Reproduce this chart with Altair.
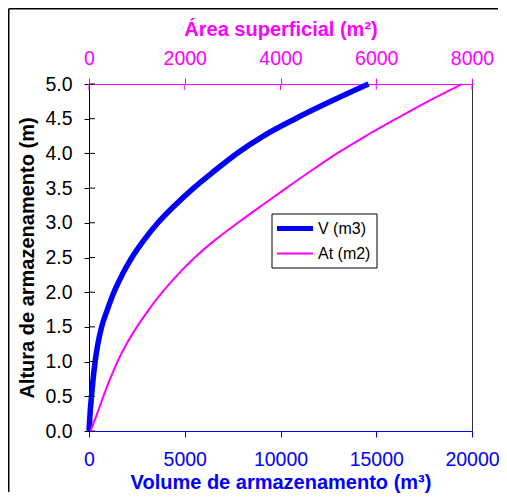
import altair as alt
import pandas as pd

# --- data ---
heights = [0.0, 0.25, 0.5, 0.75, 1.0, 1.25, 1.5, 1.75, 2.0, 2.25, 2.5,
           2.75, 3.0, 3.25, 3.5, 3.75, 4.0, 4.25, 4.5, 4.75, 5.0]
volume = [0, 55, 130, 215, 320, 460, 660, 960, 1300, 1730, 2240,
          2870, 3600, 4480, 5460, 6560, 7720, 9100, 10780, 12630, 14600]
area = [30, 170, 300, 440, 595, 780, 1000, 1250, 1530, 1850, 2210,
        2630, 3110, 3610, 4120, 4640, 5180, 5780, 6420, 7080, 7790]

series_names = ["V (m3)", "At (m2)"]
y_ticks = [0.0, 0.5, 1.0, 1.5, 2.0, 2.5, 3.0, 3.5, 4.0, 4.5, 5.0]
v_ticks = [0, 5000, 10000, 15000, 20000]
a_ticks = [0, 2000, 4000, 6000, 8000]

BLUE = "#0000FF"
MAG = "#FF00FF"
FONT = "Liberation Sans"
W, H = 383, 347
PAD = {"left": 81, "top": 76, "right": 27, "bottom": 62}

df_v = pd.DataFrame({"h": heights, "V": volume})
df_a = pd.DataFrame({"h": heights, "A": area})
df_yt = pd.DataFrame({"h": y_ticks})
df_at = pd.DataFrame({"A": a_ticks})
df_one = pd.DataFrame({"k": [0]})

y_enc = alt.Y(
    "h:Q",
    scale=alt.Scale(domain=[0, 5], nice=False, zero=True),
    axis=alt.Axis(
        values=y_ticks, format=".1f", title="Altura de armazenamento (m)",
        labelFont=FONT, labelFontSize=19.5, labelColor="black", labelPadding=12,
        labelFlush=False,
        tickSize=5, tickColor="black", domainColor="black", grid=False,
        titleFont=FONT, titleFontSize=20, titleFontWeight="bold", titleColor="black",
        titleX=-62, titleY=H / 2, titleAngle=270, titleAlign="center",
        titleBaseline="middle",
    ),
)

line_v = alt.Chart(df_v).mark_line(
    clip=False, color=BLUE, strokeWidth=5.5, interpolate="monotone"
).encode(
    x=alt.X(
        "V:Q",
        scale=alt.Scale(domain=[0, 20000], nice=False),
        axis=alt.Axis(
            orient="bottom", values=v_ticks, format="d",
            title="Volume de armazenamento (m³)",
            labelFont=FONT, labelFontSize=19.5, labelColor=BLUE, labelPadding=13,
            labelFlush=False,
            tickSize=6, tickColor=BLUE, domainColor=BLUE, grid=False,
            titleFont=FONT, titleFontSize=20, titleFontWeight="bold", titleColor=BLUE,
            titleX=W / 2, titleY=57, titleAlign="center", titleBaseline="alphabetic",
        ),
    ),
    y=y_enc,
    order="h:Q",
)

left_inner = alt.Chart(df_yt).mark_rule(color="black", strokeWidth=1).encode(
    y=y_enc, x=alt.value(0), x2=alt.value(6)
)

svg_w = PAD["left"] + W + PAD["right"]
svg_h = PAD["top"] + H + PAD["bottom"]
fx = -PAD["left"] + 0.75
fy = -PAD["top"] + 0.75
frame_top = alt.Chart(df_one).mark_rule(color="black", strokeWidth=1.5).encode(
    x=alt.value(fx), x2=alt.value(svg_w - PAD["left"] - 1), y=alt.value(fy)
)
frame_left = alt.Chart(df_one).mark_rule(color="black", strokeWidth=1.5).encode(
    x=alt.value(fx), y=alt.value(fy), y2=alt.value(svg_h - PAD["top"] - 1)
)

# legend drawn by hand (box, sample lines, labels)
legend_box = alt.Chart(df_one).mark_rect(fill="white", stroke="black", strokeWidth=1).encode(
    x=alt.value(183), x2=alt.value(288), y=alt.value(130), y2=alt.value(184)
)
leg_v_line = alt.Chart(df_one).mark_rule(color=BLUE, strokeWidth=5).encode(
    x=alt.value(188), x2=alt.value(224), y=alt.value(144.5)
)
leg_v_mark = alt.Chart(df_one).mark_point(
    shape="diamond", filled=True, color=BLUE, size=30, opacity=1
).encode(x=alt.value(207), y=alt.value(144.5))
leg_a_line = alt.Chart(df_one).mark_rule(color=MAG, strokeWidth=2).encode(
    x=alt.value(188), x2=alt.value(224), y=alt.value(169.5)
)
leg_v_text = alt.Chart(df_one).mark_text(
    text=series_names[0], font=FONT, fontSize=16, align="left", baseline="middle", color="black"
).encode(x=alt.value(229), y=alt.value(145))
leg_a_text = alt.Chart(df_one).mark_text(
    text=series_names[1], font=FONT, fontSize=16, align="left", baseline="middle", color="black"
).encode(x=alt.value(229), y=alt.value(170))

line_a = alt.Chart(df_a).mark_line(
    clip=False, color=MAG, strokeWidth=2, interpolate="monotone"
).encode(
    x=alt.X(
        "A:Q",
        scale=alt.Scale(domain=[0, 8000], nice=False),
        axis=alt.Axis(
            orient="top", values=a_ticks, format="d",
            title="Área superficial (m²)",
            labelFont=FONT, labelFontSize=19.5, labelColor=MAG, labelPadding=10,
            labelFlush=False,
            tickSize=6, tickColor=MAG, domainColor=MAG, grid=False,
            titleFont=FONT, titleFontSize=20, titleFontWeight="bold", titleColor=MAG,
            titleX=W / 2, titleY=-49, titleAlign="center", titleBaseline="alphabetic",
        ),
    ),
    y=y_enc,
    order="h:Q",
)

top_inner = alt.Chart(df_at).mark_rule(color=MAG, strokeWidth=1).encode(
    x=alt.X("A:Q", scale=alt.Scale(domain=[0, 8000], nice=False)),
    y=alt.value(0), y2=alt.value(6),
)

group_v = alt.layer(frame_top, frame_left, line_v, left_inner)
group_a = alt.layer(top_inner, line_a, legend_box, leg_v_line, leg_v_mark,
                    leg_a_line, leg_v_text, leg_a_text)

chart = (
    alt.layer(group_v, group_a)
    .resolve_scale(x="independent")
    .properties(
        width=W, height=H,
        padding=PAD,
        autosize=alt.AutoSizeParams(type="none"),
        background="white",
    )
    .configure_view(stroke="#333333", strokeWidth=1)
)

chart.save("out.html", embed_options={"renderer": "svg", "actions": False})
